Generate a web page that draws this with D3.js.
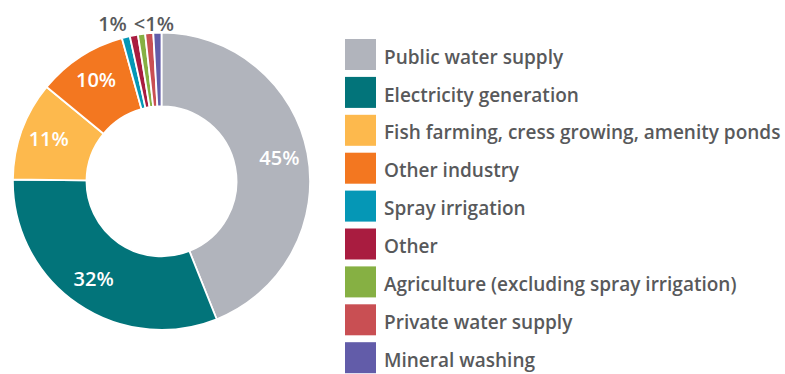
<!DOCTYPE html>
<html>
<head>
<meta charset="utf-8">
<script src="https://cdn.jsdelivr.net/npm/d3@7"></script>
<style>
  html, body { margin: 0; padding: 0; background: #ffffff; }
  svg { display: block; font-family: "Open Sans", "Noto Sans", sans-serif; }
</style>
</head>
<body>
<svg id="chart" width="785" height="374"></svg>
<script>
// Abstraction by use (share of total)
const categories = [
  "Public water supply",
  "Electricity generation",
  "Fish farming, cress growing, amenity ponds",
  "Other industry",
  "Spray irrigation",
  "Other",
  "Agriculture (excluding spray irrigation)",
  "Private water supply",
  "Mineral washing"
];
const values = [45, 32, 11, 10, 0.9, 0.9, 0.8, 0.9, 0.9];
const sliceLabels = ["45%", "32%", "11%", "10%", "", "", "", "", ""];
const colors = ["#b1b4bc", "#02747a", "#fdb94d", "#f37720", "#0597b6", "#a91c40", "#86b043", "#c94f53", "#625ca9"];

const svg = d3.select("#chart");
const cx = 161.5, cy = 181.3;
const outerR = 148.6, innerR = 75;
const textColor = "#58595b";

const pie = d3.pie().value(d => d).sort(null);
const arcs = pie(values);
const arc = d3.arc().innerRadius(innerR).outerRadius(outerR);
const labelArc = d3.arc().innerRadius(120).outerRadius(120);

const g = svg.append("g").attr("transform", `translate(${cx},${cy})`);

g.selectAll("path.slice")
  .data(arcs)
  .join("path")
  .attr("class", "slice")
  .attr("d", arc)
  .attr("fill", (d, i) => colors[i])
  .attr("stroke", "#ffffff")
  .attr("stroke-width", 1.8)
  .attr("stroke-linejoin", "round");

g.selectAll("text.pct")
  .data(arcs)
  .join("text")
  .attr("class", "pct")
  .attr("transform", d => `translate(${labelArc.centroid(d)})`)
  .attr("text-anchor", "middle")
  .attr("dy", "0.3em")
  .attr("fill", "#ffffff")
  .attr("font-size", 20)
  .attr("font-weight", 600)
  .text((d, i) => sliceLabels[i]);

// Notes for the thin slices, sitting on top of the ring and split
// where the "Other" slice begins
const split = arcs[5].startAngle;
const splitX = Math.sin(split) * outerR;
const noteY = -outerR - 1.5;
g.append("text")
  .attr("x", splitX - 3)
  .attr("y", noteY)
  .attr("text-anchor", "end")
  .attr("fill", textColor)
  .attr("font-size", 20)
  .attr("font-weight", 600)
  .text("1%");
g.append("text")
  .attr("x", splitX + 4)
  .attr("y", noteY)
  .attr("text-anchor", "start")
  .attr("fill", textColor)
  .attr("font-size", 20)
  .attr("font-weight", 600)
  .text("<1%");

// Legend
const legend = svg.append("g").attr("transform", "translate(345,39)");
const step = 37.9, sw = 31;
const items = legend.selectAll("g.item")
  .data(categories)
  .join("g")
  .attr("class", "item")
  .attr("transform", (d, i) => `translate(0,${i * step})`);

items.append("rect")
  .attr("width", sw)
  .attr("height", sw)
  .attr("fill", (d, i) => colors[i]);

items.append("text")
  .attr("x", 39)
  .attr("y", sw / 2)
  .attr("dy", "0.48em")
  .attr("fill", textColor)
  .attr("font-size", 19)
  .attr("font-weight", 600)
  .text(d => d);
</script>
</body>
</html>
